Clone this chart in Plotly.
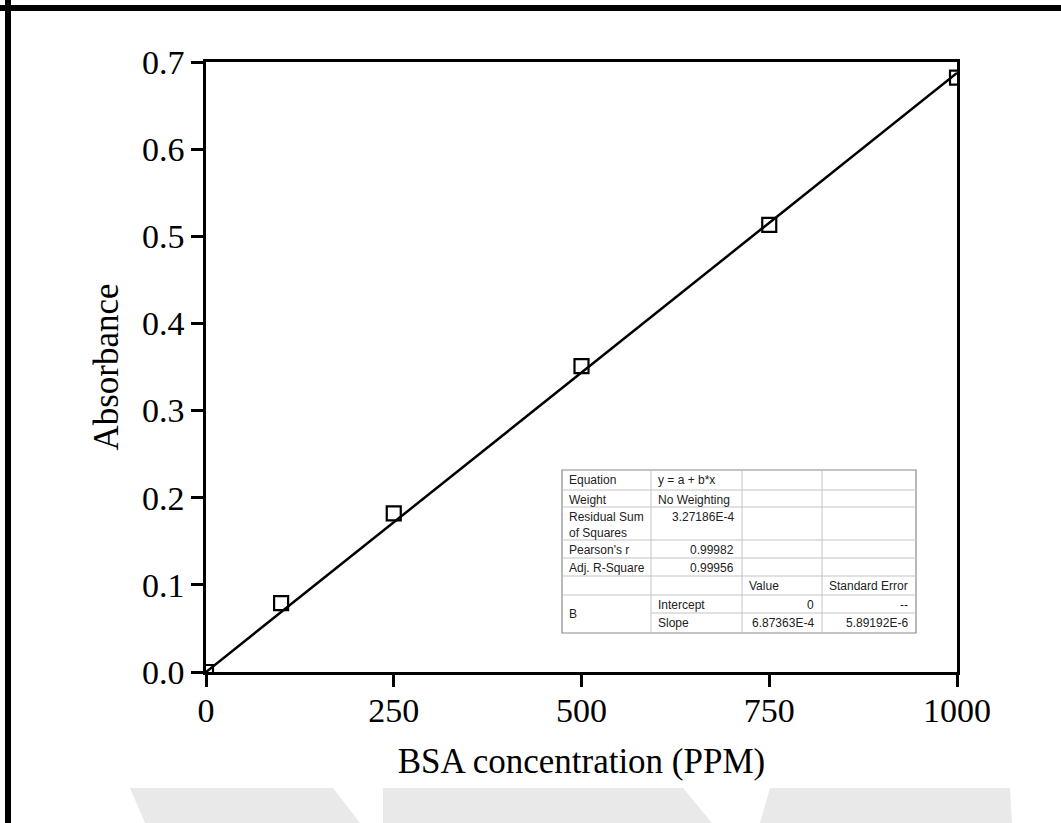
import plotly.graph_objects as go

# Calibration data: BSA standards and measured absorbance
concentration = [0, 100, 250, 500, 750, 1000]
absorbance = [0.0, 0.079, 0.182, 0.351, 0.513, 0.682]

# Linear fit through the origin
fit_intercept = 0.0
fit_slope = 6.87363e-4
fit_x = [0, 1000]

x_ticks = [0, 250, 500, 750, 1000]
y_ticks = [0.0, 0.1, 0.2, 0.3, 0.4, 0.5, 0.6, 0.7]

# Fit report table (rows of cell text; None = merged / empty)
table_col1 = ["Equation", "Weight", "Residual Sum<br>of Squares", "Pearson's r", "Adj. R-Square", "", "B", None]
table_col2 = ["y = a + b*x", "No Weighting", "3.27186E-4", "0.99982", "0.99956", "", "Intercept", "Slope"]
table_col3 = ["", "", "", "", "", "Value", "0", "6.87363E-4"]
table_col4 = ["", "", "", "", "", "Standard Error", "--", "5.89192E-6"]

W, H = 1061, 823
L, R, T, B = 206, 957, 62, 672  # plot area in pixels


def px(x):
    return (x - L) / (R - L)


def py(y):
    return (B - y) / (B - T)


fit_y = [fit_intercept + fit_slope * v for v in fit_x]

fig = go.Figure()
fig.add_trace(go.Scatter(
    x=fit_x, y=fit_y, mode="lines",
    line=dict(color="black", width=2.5), showlegend=False, hoverinfo="skip",
))
fig.add_trace(go.Scatter(
    x=concentration, y=absorbance, mode="markers",
    marker=dict(symbol="square-open", size=14, color="black", line=dict(width=2.2, color="black")),
    showlegend=False, cliponaxis=True,
))

shapes = []
annotations = []

# faint background band along the bottom edge
band_color = "#e9e9e9"
shapes.append(dict(type="path", xref="paper", yref="paper", layer="below",
                   path=f"M {px(130)} {py(788)} L {px(1010)} {py(788)} L {px(1012)} {py(823)} L {px(145)} {py(823)} Z",
                   fillcolor=band_color, line=dict(width=0)))
for x0, x1, x2, x3 in [(333, 383, 383, 360), (683, 770, 760, 712)]:
    shapes.append(dict(type="path", xref="paper", yref="paper", layer="below",
                       path=f"M {px(x0)} {py(788)} L {px(x1)} {py(788)} L {px(x2)} {py(823)} L {px(x3)} {py(823)} Z",
                       fillcolor="white", line=dict(width=0)))

# frame bars on the top and left edges
shapes.append(dict(type="rect", xref="paper", yref="paper", x0=px(0), x1=px(W), y0=py(5), y1=py(11),
                   fillcolor="black", line=dict(width=0)))
shapes.append(dict(type="rect", xref="paper", yref="paper", x0=px(5), x1=px(11), y0=py(0), y1=py(H),
                   fillcolor="black", line=dict(width=0)))

# fit report table
col_edges = [562, 651, 742, 822, 916]
row_edges = [470, 490, 507, 540, 558, 576, 595, 613, 633]
grid = "#c4c4c4"
shapes.append(dict(type="rect", xref="paper", yref="paper",
                   x0=px(col_edges[0]), x1=px(col_edges[-1]), y0=py(row_edges[-1]), y1=py(row_edges[0]),
                   fillcolor="white", line=dict(color="#8a8a8a", width=1.2)))
for c in col_edges[1:-1]:
    shapes.append(dict(type="line", xref="paper", yref="paper", x0=px(c), x1=px(c),
                       y0=py(row_edges[0]), y1=py(row_edges[-1]), line=dict(color=grid, width=1)))
for i, r in enumerate(row_edges[1:-1], start=1):
    x_start = col_edges[1] if i == 7 else col_edges[0]
    shapes.append(dict(type="line", xref="paper", yref="paper", x0=px(x_start), x1=px(col_edges[-1]),
                       y0=py(r), y1=py(r), line=dict(color=grid, width=1)))

cell_font = dict(family="Liberation Sans, Arial, sans-serif", size=12, color="#222")
numeric = {(1, 2), (1, 3), (1, 4), (2, 6), (2, 7), (3, 6), (3, 7)}
columns = [table_col1, table_col2, table_col3, table_col4]
for ci, col in enumerate(columns):
    for ri, text in enumerate(col):
        if not text:
            continue
        right = (ci, ri) in numeric
        if ci == 0 and ri == 6:
            yc = (row_edges[6] + row_edges[8]) / 2
            yanchor = "middle"
        else:
            yc = row_edges[ri] + 1
            yanchor = "top"
        xpos = col_edges[ci + 1] - 6 if right else col_edges[ci] + 5
        annotations.append(dict(
            xref="paper", yref="paper", x=px(xpos), y=py(yc),
            xanchor="right" if right else "left", yanchor=yanchor,
            text=text, showarrow=False, align="left", font=cell_font,
        ))

serif = "Liberation Serif, Times New Roman, serif"
fig.update_layout(
    width=W, height=H,
    margin=dict(l=L, r=W - R, t=T, b=H - B),
    paper_bgcolor="white", plot_bgcolor="white",
    shapes=shapes, annotations=annotations,
    xaxis=dict(
        range=[0, 1000], tickvals=x_ticks, ticktext=[str(v) for v in x_ticks],
        showgrid=False, zeroline=False,
        showline=True, linecolor="black", linewidth=2.5, mirror=True,
        ticks="outside", ticklen=12, tickwidth=2.5, tickcolor="black",
        ticklabelstandoff=-6,
        tickfont=dict(family=serif, size=34, color="black"),
        title=dict(text="BSA concentration (PPM)", font=dict(family=serif, size=35, color="black"), standoff=21),
    ),
    yaxis=dict(
        range=[0, 0.7], tickvals=y_ticks, ticktext=[f"{v:.1f}" for v in y_ticks],
        showgrid=False, zeroline=False,
        showline=True, linecolor="black", linewidth=2.5, mirror=True,
        ticks="outside", ticklen=12, tickwidth=2.5, tickcolor="black",
        tickfont=dict(family=serif, size=34, color="black"),
        title=dict(text="Absorbance", font=dict(family=serif, size=35, color="black"), standoff=13),
    ),
)

fig.write_html("out.html")
